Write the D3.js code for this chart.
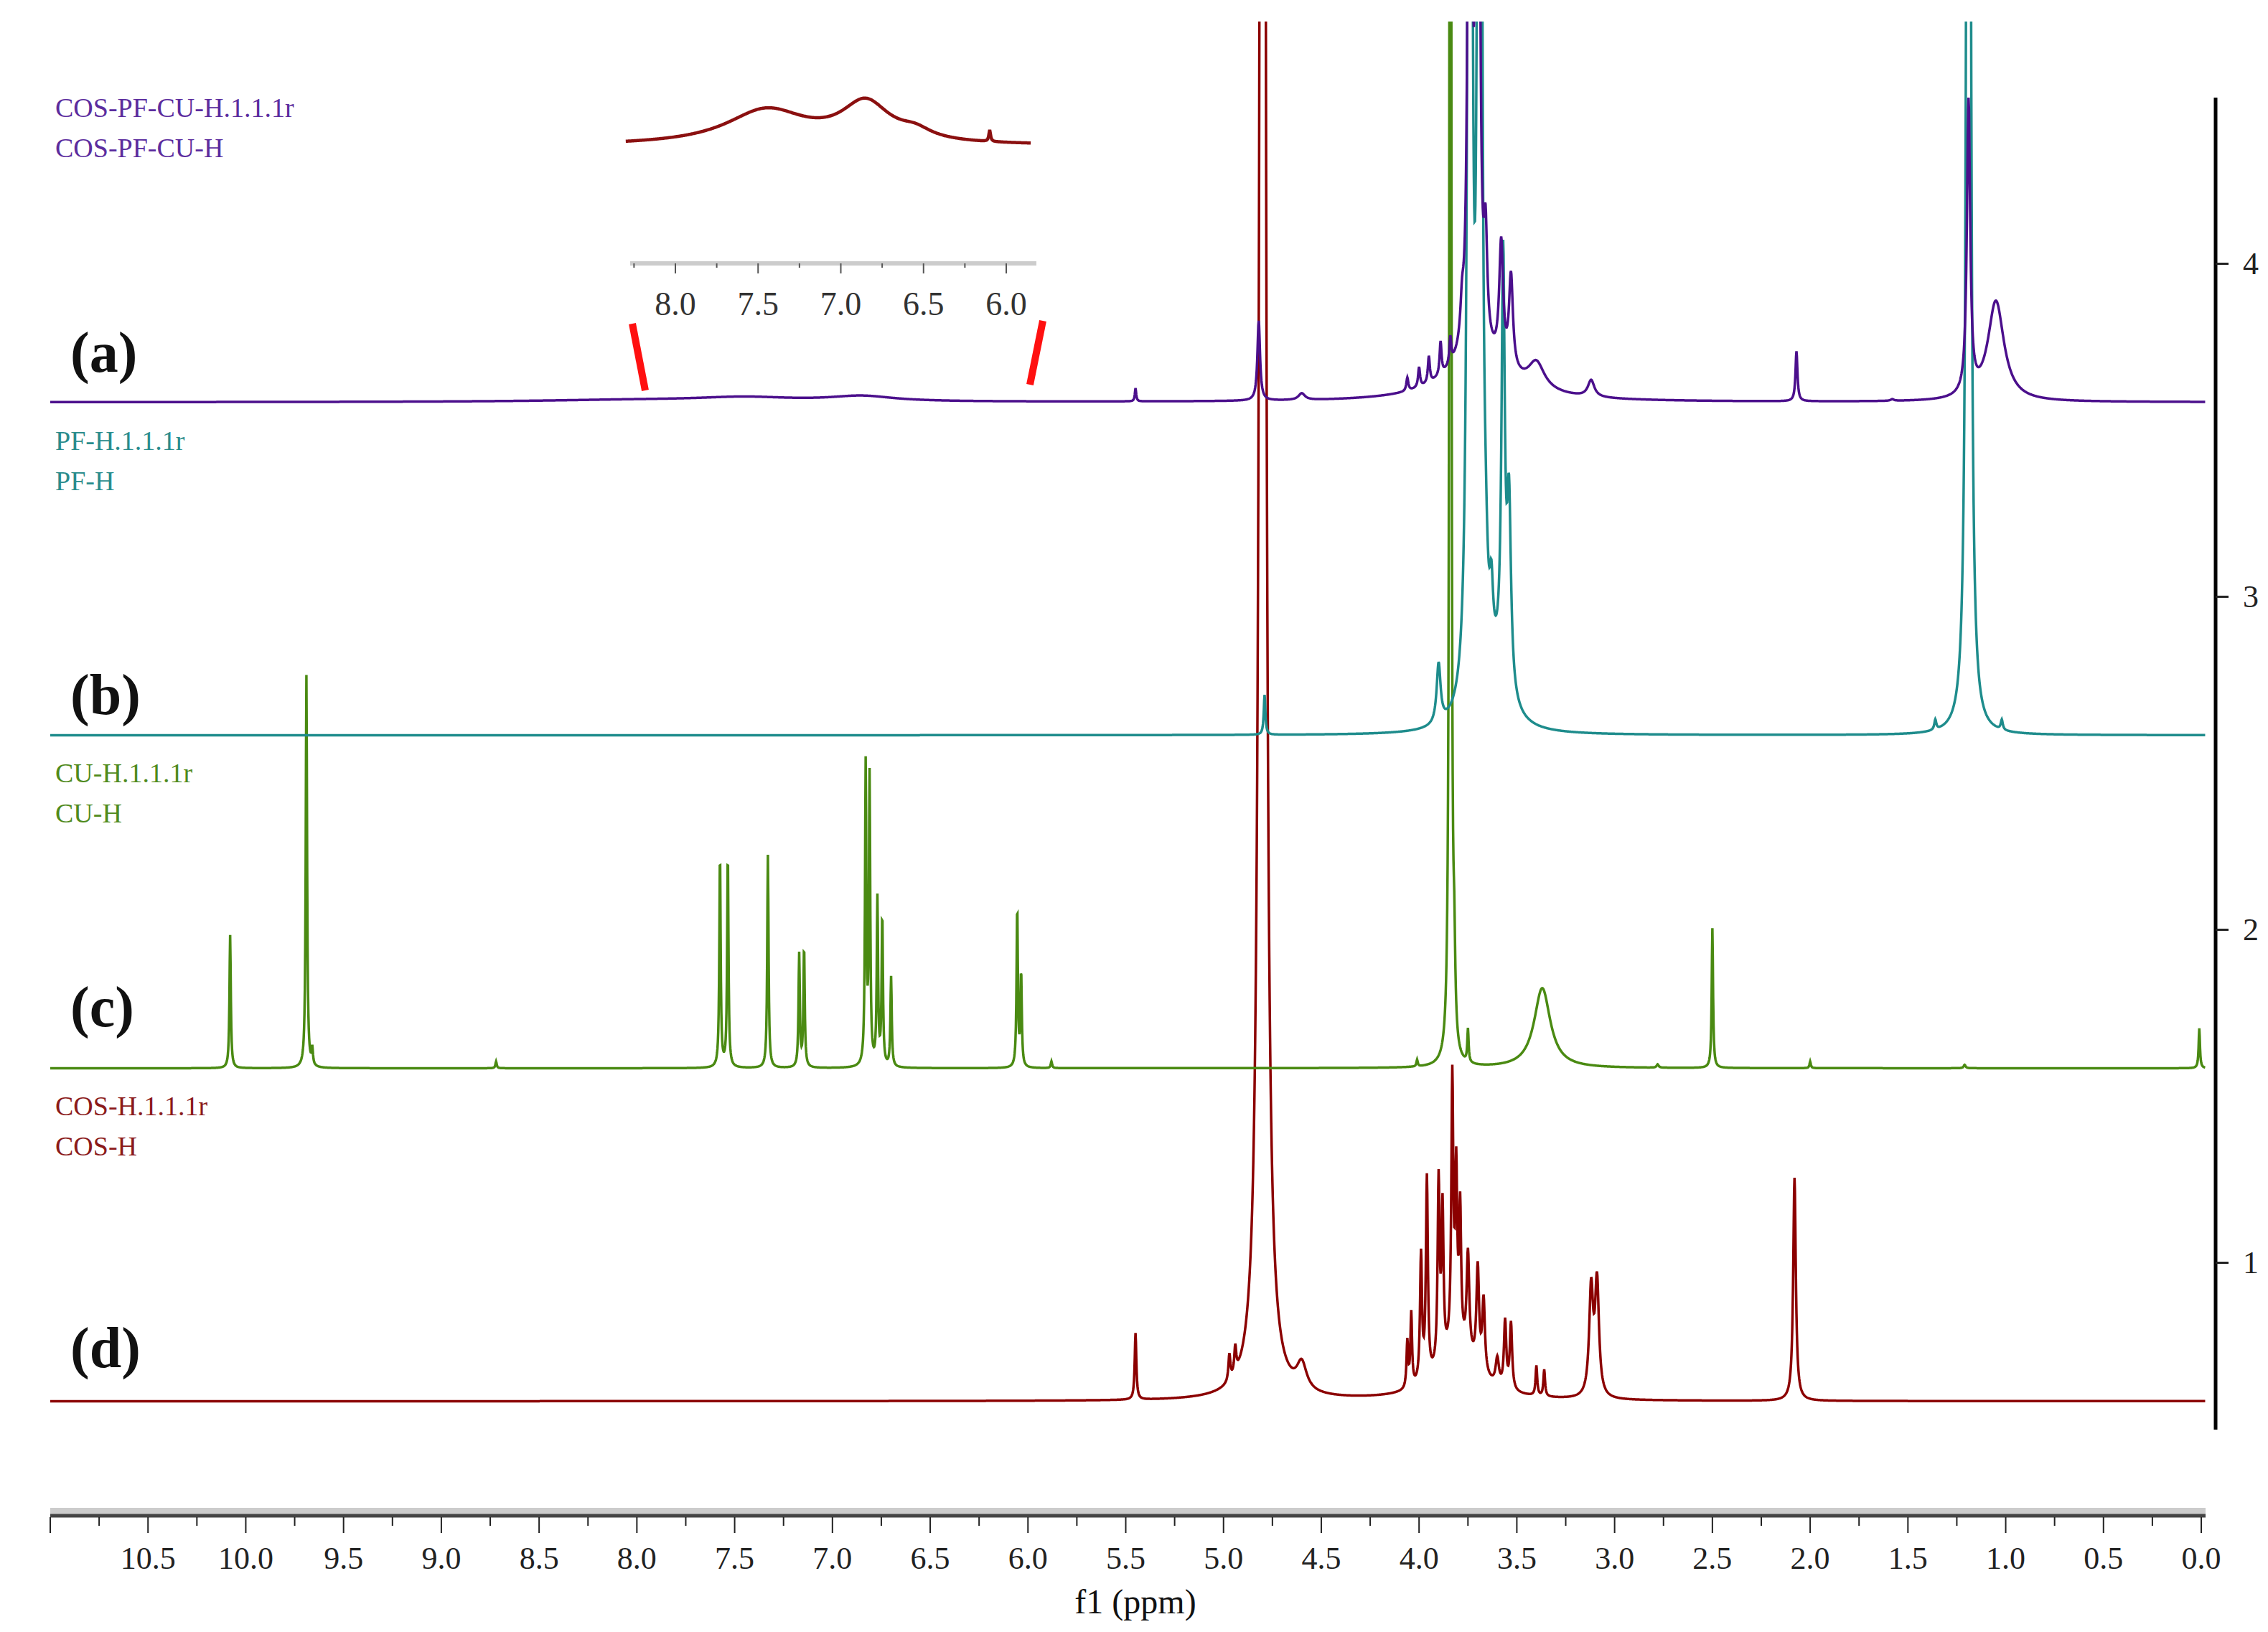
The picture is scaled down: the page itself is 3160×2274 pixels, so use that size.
<!DOCTYPE html>
<html>
<head>
<meta charset="utf-8">
<script src="https://cdn.jsdelivr.net/npm/d3@7"></script>
<style>
  body { margin: 0; background: #fff; }
  text { font-family: "Liberation Serif", "Times New Roman", serif; }
</style>
</head>
<body>
<svg id="chart" width="3160" height="2274"></svg>
<script>
// peak lists: [ppm, height (axis units), half width (ppm)]
var peaksA = [[8.0, 0.006, 0.6], [7.45, 0.012, 0.3], [6.85, 0.016, 0.2], [5.45, 0.04, 0.004],
  [4.82, 0.24, 0.008], [4.60, 0.02, 0.02], [4.06, 0.04, 0.006], [4.00, 0.06, 0.006],
  [3.95, 0.08, 0.006], [3.89, 0.1, 0.006], [3.84, 0.08, 0.006], [3.78, 0.1, 0.01],
  [3.74, 6.0, 0.006], [3.70, 6.0, 0.006], [3.66, 0.3, 0.01], [3.58, 0.36, 0.012],
  [3.53, 0.28, 0.012], [3.40, 0.08, 0.05], [3.12, 0.05, 0.02], [3.7, 0.12, 0.2],
  [2.07, 0.15, 0.006], [1.58, 0.005, 0.01], [1.19, 0.88, 0.01], [1.05, 0.3, 0.05]];
var peaksB = [[4.79, 0.12, 0.005], [3.90, 0.18, 0.012], [3.74, 8.0, 0.008], [3.69, 8.0, 0.008],
  [3.66, 0.15, 0.012], [3.63, 0.18, 0.01], [3.57, 1.25, 0.01], [3.54, 0.55, 0.012],
  [3.6, 0.12, 0.07], [1.36, 0.03, 0.006], [1.19, 8.0, 0.008], [1.02, 0.03, 0.006]];
var peaksC = [[10.08, 0.40, 0.004], [9.69, 1.18, 0.004], [9.66, 0.05, 0.004], [8.72, 0.02, 0.004],
  [7.575, 0.64, 0.004], [7.535, 0.64, 0.004], [7.33, 0.64, 0.004], [7.17, 0.34, 0.004],
  [7.145, 0.36, 0.004], [6.83, 0.90, 0.004], [6.81, 0.86, 0.004], [6.77, 0.5, 0.004],
  [6.745, 0.45, 0.004], [6.70, 0.27, 0.004], [6.055, 0.48, 0.004], [6.035, 0.28, 0.004],
  [5.88, 0.02, 0.004], [4.01, 0.02, 0.004], [3.84, 8.0, 0.004], [3.82, 0.22, 0.006],
  [3.75, 0.1, 0.004], [3.37, 0.24, 0.05], [2.78, 0.01, 0.006], [2.50, 0.42, 0.004],
  [2.00, 0.02, 0.004], [1.21, 0.01, 0.006], [0.01, 0.12, 0.004]];
var peaksD = [[5.45, 0.20, 0.005], [4.97, 0.08, 0.006], [4.94, 0.08, 0.006], [4.80, 12.0, 0.012],
  [4.60, 0.08, 0.03], [4.06, 0.14, 0.005], [4.04, 0.22, 0.005], [3.99, 0.38, 0.006],
  [3.96, 0.6, 0.006], [3.90, 0.55, 0.006], [3.88, 0.45, 0.006], [3.83, 0.8, 0.006],
  [3.81, 0.5, 0.006], [3.79, 0.4, 0.006], [3.75, 0.3, 0.008], [3.70, 0.3, 0.008],
  [3.67, 0.22, 0.008], [3.56, 0.2, 0.007], [3.53, 0.2, 0.007], [3.60, 0.08, 0.01],
  [3.40, 0.09, 0.005], [3.36, 0.08, 0.005], [3.12, 0.32, 0.012], [3.09, 0.34, 0.012],
  [3.8, 0.15, 0.12], [2.08, 0.67, 0.008]];
var offsets = [3.583, 2.583, 1.583, 0.583];
var colors = ["#4b0f8c", "#1e8c8c", "#4a8a12", "#8b0000"];
var labelColors = ["#5b2c9e", "#2a8c8c", "#4f8a1c", "#8b1a1a"];
var sampleNames = [["COS-PF-CU-H.1.1.1r", "COS-PF-CU-H"], ["PF-H.1.1.1r", "PF-H"],
  ["CU-H.1.1.1r", "CU-H"], ["COS-H.1.1.1r", "COS-H"]];
var panelTags = ["(a)", "(b)", "(c)", "(d)"];
var labelY = [163, 627, 1090, 1554];
var tagY = [518, 995, 1430, 1905];
var xTicks = d3.range(0, 10.51, 0.5);
var yTicks = [1, 2, 3, 4];
// inset: region 8.3-5.85 ppm of (a), magnified
var insetPeaks = [[7.45, 0.48, 0.3], [6.85, 0.55, 0.18], [6.55, 0.12, 0.12], [6.10, 0.16, 0.006]];
var insetTicks = [8.0, 7.5, 7.0, 6.5, 6.0];

var svg = d3.select("#chart");
var x = d3.scaleLinear().domain([11, 0]).range([70, 3067]);
var y = d3.scaleLinear().domain([1, 4]).range([1759, 367]);

function spectrum(peaks, lo, hi, step) {
  var pts = [];
  for (var p = hi; p >= lo - 1e-9; p -= step) {
    var s = 0;
    peaks.forEach(function(k) { s += k[1] * k[2] * k[2] / ((p - k[0]) * (p - k[0]) + k[2] * k[2]); });
    pts.push([p, s]);
  }
  return pts;
}

svg.append("clipPath").attr("id", "clip").append("rect")
  .attr("x", 70).attr("y", 30).attr("width", 3005).attr("height", 1970);

var allPeaks = [peaksA, peaksB, peaksC, peaksD];
var g = svg.append("g").attr("clip-path", "url(#clip)");
// draw bottom first so top spectra overlay like the picture
[3, 2, 1, 0].forEach(function(i) {
  var pts = spectrum(allPeaks[i], -0.02, 11, 0.002);
  var line = d3.line().x(d => x(d[0])).y(d => y(d[1] + offsets[i]));
  g.append("path").attr("d", line(pts)).attr("fill", "none")
    .attr("stroke", colors[i]).attr("stroke-width", 3.5);
});

// sample labels and tags
sampleNames.forEach(function(n, i) {
  svg.append("text").attr("x", 77).attr("y", labelY[i]).attr("font-size", 38)
    .attr("fill", labelColors[i]).text(n[0]);
  svg.append("text").attr("x", 77).attr("y", labelY[i] + 56).attr("font-size", 38)
    .attr("fill", labelColors[i]).text(n[1]);
  svg.append("text").attr("x", 98).attr("y", tagY[i]).attr("font-size", 80)
    .attr("font-weight", "bold").attr("fill", "#111").text(panelTags[i]);
});

// bottom axis
var xAxis = svg.append("g").attr("transform", "translate(0,2110)");
xAxis.append("line").attr("x1", 70).attr("x2", 3073).attr("stroke", "#ccc").attr("stroke-width", 10)
  .attr("transform", "translate(0,-4)");
xAxis.append("line").attr("x1", 70).attr("x2", 3073).attr("stroke", "#444").attr("stroke-width", 5)
  .attr("transform", "translate(0,2)");
xAxis.call(d3.axisBottom(x).tickValues(d3.range(0, 11.01, 0.25)).tickSize(0).tickFormat(""));
xAxis.selectAll(".domain").remove();
d3.range(0, 11.01, 0.25).forEach(function(t) {
  var major = Math.abs(t * 2 - Math.round(t * 2)) < 1e-6;
  xAxis.append("line").attr("x1", x(t)).attr("x2", x(t)).attr("y1", 4)
    .attr("y2", major ? 26 : 16).attr("stroke", "#222").attr("stroke-width", 2);
});
xTicks.forEach(function(t) {
  xAxis.append("text").attr("x", x(t)).attr("y", 76).attr("text-anchor", "middle")
    .attr("font-size", 44).attr("fill", "#222").text(t.toFixed(1));
});
svg.append("text").attr("x", 1582).attr("y", 2248).attr("text-anchor", "middle")
  .attr("font-size", 48).attr("fill", "#111").text("f1 (ppm)");

// right axis
var yAxis = svg.append("g").attr("transform", "translate(3087,0)");
yAxis.append("line").attr("y1", 136).attr("y2", 1992).attr("stroke", "#000").attr("stroke-width", 5);
yAxis.call(d3.axisRight(y).tickValues(yTicks).tickSize(18).tickFormat(d3.format("d")));
yAxis.selectAll(".domain").remove();
yAxis.selectAll(".tick line").attr("stroke", "#222").attr("stroke-width", 3);
yAxis.selectAll(".tick text").attr("font-size", 44).attr("x", 38)
  .style("font-family", "'Liberation Serif', serif").attr("fill", "#222");

// inset
var xi = d3.scaleLinear().domain([8.0, 6.0]).range([941, 1402]);
var yi = d3.scaleLinear().domain([0, 1]).range([203, 103]);
var ipts = spectrum(insetPeaks, 5.85, 8.3, 0.004);
svg.append("path").attr("d", d3.line().x(d => xi(d[0])).y(d => yi(d[1]))(ipts))
  .attr("fill", "none").attr("stroke", "#8b1010").attr("stroke-width", 4.5);
var inAx = svg.append("g").attr("transform", "translate(0,367)");
inAx.append("line").attr("x1", 878).attr("x2", 1444).attr("stroke", "#ccc").attr("stroke-width", 6);
[8.25, 8.0, 7.75, 7.5, 7.25, 7.0, 6.75, 6.5, 6.25, 6.0].forEach(function(t) {
  var major = insetTicks.indexOf(t) >= 0;
  inAx.append("line").attr("x1", xi(t)).attr("x2", xi(t)).attr("y1", 0).attr("y2", major ? 14 : 6)
    .attr("stroke", "#555").attr("stroke-width", 2);
});
insetTicks.forEach(function(t) {
  inAx.append("text").attr("x", xi(t)).attr("y", 72).attr("text-anchor", "middle")
    .attr("font-size", 46).attr("fill", "#333").text(t.toFixed(1));
});
// red break marks
svg.append("line").attr("x1", 881).attr("y1", 451).attr("x2", 899).attr("y2", 544)
  .attr("stroke", "#ff1010").attr("stroke-width", 10);
svg.append("line").attr("x1", 1453).attr("y1", 447).attr("x2", 1435).attr("y2", 536)
  .attr("stroke", "#ff1010").attr("stroke-width", 10);
</script>
</body>
</html>
